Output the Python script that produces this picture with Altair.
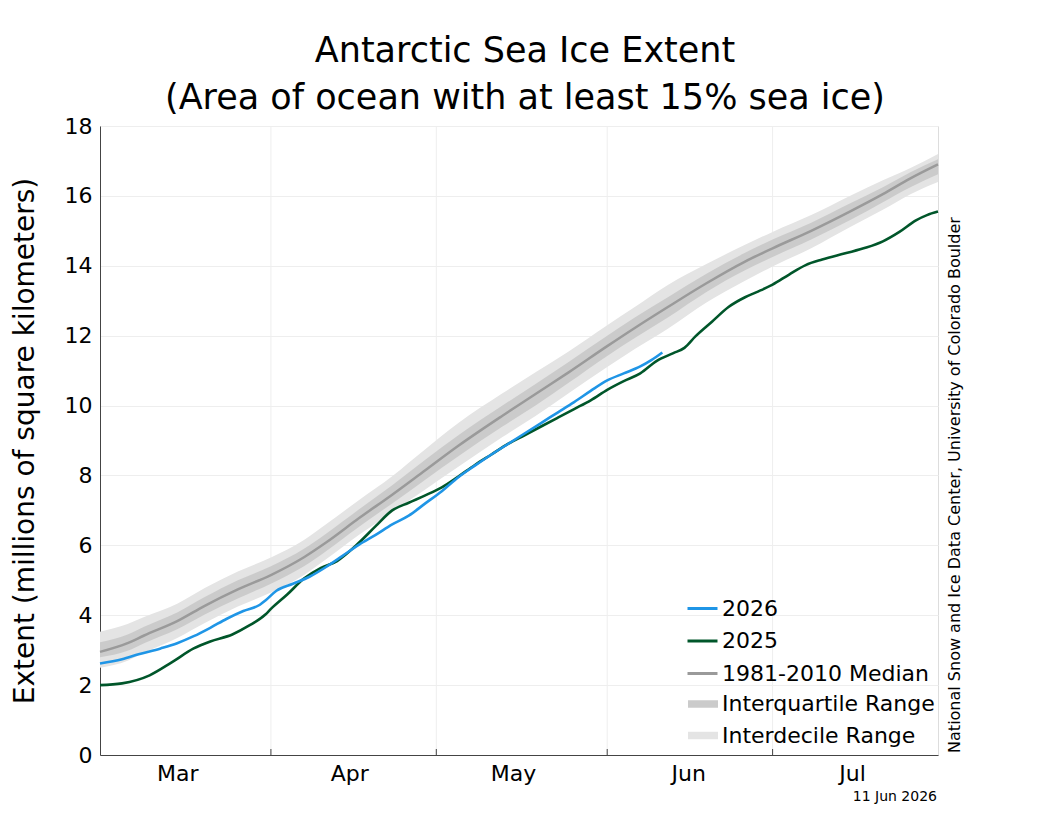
import altair as alt
import pandas as pd

BASE = pd.Timestamp("2026-03-01")

# ---- data (day offsets from 1 March) ----
med_days = [0, 5, 8, 14, 19, 25, 31, 37, 41, 47, 53, 59, 65, 73, 79, 85, 92, 97,
            103, 110, 117, 122, 129, 136, 142, 147, 152]
median = [2.95, 3.2, 3.42, 3.83, 4.27, 4.74, 5.15, 5.66, 6.08, 6.78, 7.45, 8.15, 8.85,
          9.71, 10.33, 10.95, 11.7, 12.22, 12.82, 13.5, 14.12, 14.5, 15.0, 15.55,
          16.05, 16.5, 16.9]
id_hi = [3.53, 3.75, 3.95, 4.33, 4.78, 5.25, 5.65, 6.15, 6.6, 7.3, 7.98, 8.75, 9.5,
         10.35, 10.95, 11.55, 12.3, 12.82, 13.45, 14.05, 14.6, 14.97, 15.45, 16.0,
         16.45, 16.8, 17.2]
id_lo = [2.5, 2.7, 2.93, 3.35, 3.78, 4.25, 4.65, 5.15, 5.6, 6.3, 6.95, 7.6, 8.25,
         9.1, 9.7, 10.35, 11.1, 11.62, 12.2, 12.95, 13.57, 13.98, 14.5, 15.1, 15.6,
         16.05, 16.4]
iq_hi = [3.23, 3.45, 3.67, 4.08, 4.52, 5.0, 5.4, 5.9, 6.33, 7.03, 7.72, 8.45, 9.15,
         10.0, 10.62, 11.25, 12.0, 12.52, 13.1, 13.77, 14.37, 14.75, 15.23, 15.78,
         16.25, 16.68, 17.05]
iq_lo = [2.8, 2.98, 3.2, 3.6, 4.02, 4.48, 4.9, 5.4, 5.83, 6.53, 7.2, 7.88, 8.55,
         9.4, 10.0, 10.65, 11.42, 11.93, 12.52, 13.25, 13.87, 14.25, 14.75, 15.3,
         15.82, 16.25, 16.62]

y2025_days = [0, 4, 9, 13, 17, 20, 24, 27, 30, 31, 34, 37, 40, 43, 47, 50, 53, 56,
              59, 62, 65, 68, 71, 74, 77, 80, 83, 86, 89, 92, 95, 98, 101, 104, 106,
              108, 111, 114, 117, 119, 122, 125, 128, 131, 135, 139, 142, 145, 148,
              150, 152]
y2025 = [2.0, 2.05, 2.28, 2.65, 3.05, 3.25, 3.45, 3.7, 4.02, 4.18, 4.6, 5.05, 5.35,
         5.55, 6.08, 6.55, 7.0, 7.22, 7.43, 7.66, 7.97, 8.3, 8.6, 8.9, 9.15, 9.4,
         9.65, 9.9, 10.15, 10.45, 10.7, 10.92, 11.28, 11.5, 11.65, 11.98, 12.4, 12.82,
         13.1, 13.24, 13.46, 13.75, 14.02, 14.18, 14.35, 14.52, 14.7, 14.97, 15.3,
         15.45, 15.55]

y2026_days = [0, 4, 7, 11, 14, 17, 20, 23, 26, 29, 30, 32, 35, 38, 41, 44, 47, 50,
              53, 56, 59, 62, 65, 68, 71, 74, 77, 80, 83, 86, 89, 92, 95, 98, 100, 102]
y2026 = [2.62, 2.74, 2.88, 3.05, 3.2, 3.4, 3.64, 3.9, 4.12, 4.3, 4.42, 4.7, 4.9,
         5.1, 5.38, 5.7, 6.02, 6.3, 6.6, 6.85, 7.2, 7.55, 7.95, 8.28, 8.6, 8.9, 9.2,
         9.5, 9.8, 10.1, 10.42, 10.72, 10.92, 11.12, 11.3, 11.52]

month_start_days = [31, 61, 92, 122]
label_days = [14, 45.2, 74.9, 106.7, 136.4]

series_names = ["2026", "2025", "1981-2010 Median"]
band_names = ["Interquartile Range", "Interdecile Range"]

BLUE, GREEN, GRAY = "#1f95e6", "#00562a", "#9a9a9a"
IQ_C, ID_C = "#cbcbcb", "#e4e4e4"
FONT = "DejaVu Sans"
W, H = 838, 629


def dates(days):
    return [BASE + pd.Timedelta(days=d) for d in days]


bands = pd.DataFrame({"date": dates(med_days), "median": median,
                      "id_lo": id_lo, "id_hi": id_hi, "iq_lo": iq_lo, "iq_hi": iq_hi})
bands_id = bands.assign(band=band_names[1])
bands_iq = bands.assign(band=band_names[0])
med_df = bands.assign(series=series_names[2])
df25 = pd.DataFrame({"date": dates(y2025_days), "v": y2025, "series": "2025"})
df26 = pd.DataFrame({"date": dates(y2026_days), "v": y2026, "series": "2026"})
months = pd.DataFrame({"date": dates(month_start_days)})

x_scale = alt.Scale(domain=[alt.DateTime(year=2026, month=3, date=1),
                            alt.DateTime(year=2026, month=7, date=31)], nice=False)
label_vals = []
for d in label_days:
    ts = BASE + pd.Timedelta(hours=round(d * 24))
    label_vals.append(alt.DateTime(year=2026, month=int(ts.month), date=int(ts.day),
                                   hours=int(ts.hour)))
x_axis = alt.Axis(values=label_vals, format="%b", ticks=False, grid=False,
                  labelFontSize=22, labelFont=FONT, labelColor="black",
                  labelPadding=8, domainColor="#444444", domainWidth=1, title=None)
x_enc = alt.X("date:T", scale=x_scale, axis=x_axis)

y_scale = alt.Scale(domain=[0, 18], nice=False)
y_axis = alt.Axis(values=list(range(0, 19, 2)), ticks=False, grid=True,
                  gridColor="#eeeeee", labelFontSize=22, labelFont=FONT,
                  labelColor="black", labelPadding=8, domainColor="#444444",
                  title="Extent (millions of square kilometers)", titleFontSize=28,
                  titleFont=FONT, titleFontWeight="normal", titleColor="black",
                  titleAngle=270, titleX=-75, titleY=H / 2, titleBaseline="middle",
                  titleAlign="center")

fill_scale = alt.Scale(domain=band_names, range=[IQ_C, ID_C])
stroke_scale = alt.Scale(domain=series_names, range=[BLUE, GREEN, GRAY])

fill_legend = alt.Legend(title=None, orient="none", legendX=588, legendY=563,
                         symbolType="M-1,-0.25H1V0.25H-1Z", symbolSize=900,
                         symbolStrokeWidth=0, labelFontSize=22, labelFont=FONT,
                         labelColor="black", rowPadding=5.5, padding=0, labelOffset=4,
                         labelLimit=400)
stroke_legend = alt.Legend(title=None, orient="none", legendX=586, legendY=466,
                           symbolType="stroke", symbolSize=900, symbolStrokeWidth=3,
                           labelFontSize=22, labelFont=FONT, labelColor="black",
                           rowPadding=4.5, padding=0, labelOffset=3, labelLimit=400)

grid_v = alt.Chart(months).mark_rule(color="#eeeeee", strokeWidth=1).encode(
    x=x_enc, y=alt.value(0), y2=alt.value(H))
ticks_v = alt.Chart(months).mark_rule(color="#444444", strokeWidth=1).encode(
    x=x_enc, y=alt.value(H), y2=alt.value(H - 6))

area_id = alt.Chart(bands_id).mark_area(interpolate="monotone").encode(
    x=x_enc, y=alt.Y("id_lo:Q", scale=y_scale, axis=y_axis), y2="id_hi:Q",
    fill=alt.Fill("band:N", scale=fill_scale, legend=fill_legend))
area_iq = alt.Chart(bands_iq).mark_area(interpolate="monotone").encode(
    x=x_enc, y=alt.Y("iq_lo:Q", scale=y_scale, axis=y_axis), y2="iq_hi:Q",
    fill=alt.Fill("band:N", scale=fill_scale, legend=fill_legend))

line_med = alt.Chart(med_df).mark_line(strokeWidth=2.5, interpolate="monotone").encode(
    x=x_enc, y=alt.Y("median:Q", scale=y_scale, axis=y_axis),
    stroke=alt.Stroke("series:N", scale=stroke_scale, legend=stroke_legend))
line25 = alt.Chart(df25).mark_line(strokeWidth=2.6, interpolate="monotone").encode(
    x=x_enc, y=alt.Y("v:Q", scale=y_scale, axis=y_axis),
    stroke=alt.Stroke("series:N", scale=stroke_scale, legend=stroke_legend))
line26 = alt.Chart(df26).mark_line(strokeWidth=2.6, interpolate="monotone").encode(
    x=x_enc, y=alt.Y("v:Q", scale=y_scale, axis=y_axis),
    stroke=alt.Stroke("series:N", scale=stroke_scale, legend=stroke_legend))

src = alt.Chart(pd.DataFrame({"t": ["National Snow and Ice Data Center, University of Colorado Boulder"]})
                ).mark_text(angle=270, fontSize=16, font=FONT, color="black",
                            align="center", baseline="middle").encode(
    text="t:N", x=alt.value(855), y=alt.value(359))
stamp = alt.Chart(pd.DataFrame({"t": ["11 Jun 2026"]})).mark_text(
    fontSize=14, font=FONT, color="black", align="right", baseline="middle").encode(
    text="t:N", x=alt.value(837), y=alt.value(671))

chart = alt.layer(grid_v, area_id, area_iq, line_med, line25, line26, ticks_v, src, stamp
                  ).resolve_scale(fill="shared", stroke="shared").properties(
    width=W, height=H,
    title=alt.TitleParams(
        text=["Antarctic Sea Ice Extent", "(Area of ocean with at least 15% sea ice)"],
        fontSize=35, font=FONT, fontWeight="normal", lineHeight=47, anchor="middle",
        offset=-1, dx=6, color="black"),
    autosize=alt.AutoSizeParams(type="none"),
    padding={"left": 92, "top": 118, "right": 104, "bottom": 70},
).configure_view(stroke=None).configure(background="white")

chart.save("out.html", embed_options={"renderer": "svg", "actions": False})
